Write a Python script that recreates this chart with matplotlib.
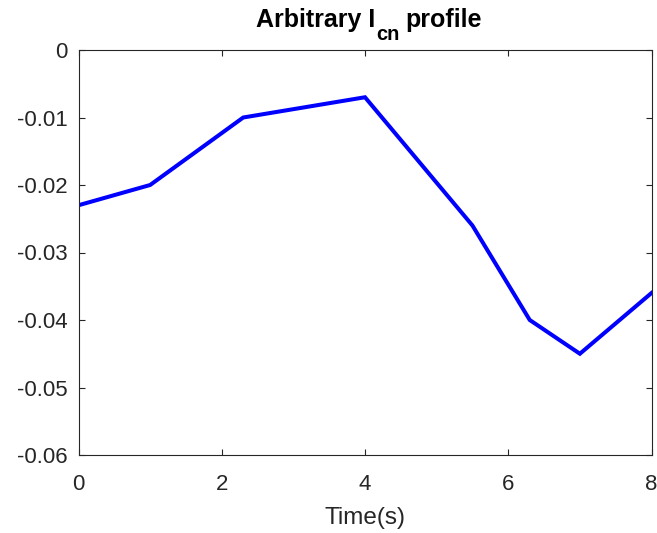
import matplotlib
matplotlib.use("Agg")
from matplotlib import pyplot as plt

# values
time_s = [0, 1, 2.3, 4, 5.5, 6.3, 7, 8]
icn = [-0.023, -0.020, -0.010, -0.007, -0.026, -0.040, -0.045, -0.036]
xticks = [0, 2, 4, 6, 8]
yticks = [-0.06, -0.05, -0.04, -0.03, -0.02, -0.01, 0]
ytick_labels = ["-0.06", "-0.05", "-0.04", "-0.03", "-0.02", "-0.01", "0"]

plt.rcParams["font.family"] = ["Liberation Sans", "DejaVu Sans"]
axis_color = "#262626"
W, H = 657, 533

fig = plt.figure(figsize=(W / 100, H / 100), dpi=100)
ax = fig.add_axes([78.5 / W, 1 - 455 / H, 573 / W, 405 / H])

ax.plot(time_s, icn, color="#0000ff", linewidth=2.9, solid_joinstyle="miter")

ax.set_xlim(0, 8)
ax.set_ylim(-0.06, 0)
ax.set_xticks(xticks)
ax.set_xticklabels([str(t) for t in xticks])
ax.set_yticks(yticks)
ax.set_yticklabels(ytick_labels)

ax.tick_params(direction="in", length=4, width=0.8, top=True, right=True,
               labelsize=16, colors=axis_color)
ax.tick_params(axis="x", pad=14)
ax.tick_params(axis="y", pad=8)
for side in ax.spines.values():
    side.set_color(axis_color)
    side.set_linewidth(0.8)

ax.set_xlabel("Time(s)", fontsize=17.5, color=axis_color, labelpad=8)

# title with a MATLAB-like subscript, put together piece by piece
renderer = fig.canvas.get_renderer()
pieces = [("Arbitrary I", 18, 27, 1), ("cn", 14.5, 40, 5), ("profile", 18, 27, 0)]
texts = []
total = 0
for s, size, base, gap in pieces:
    t = fig.text(0, 1 - base / H, s, fontsize=size, fontweight="bold", va="baseline", ha="left")
    w = t.get_window_extent(renderer).width
    texts.append((t, w, gap))
    total += w + gap
x = 369 - total / 2
for t, w, gap in texts:
    t.set_x(x / W)
    x += w + gap

fig.savefig("out.png", dpi=100)
